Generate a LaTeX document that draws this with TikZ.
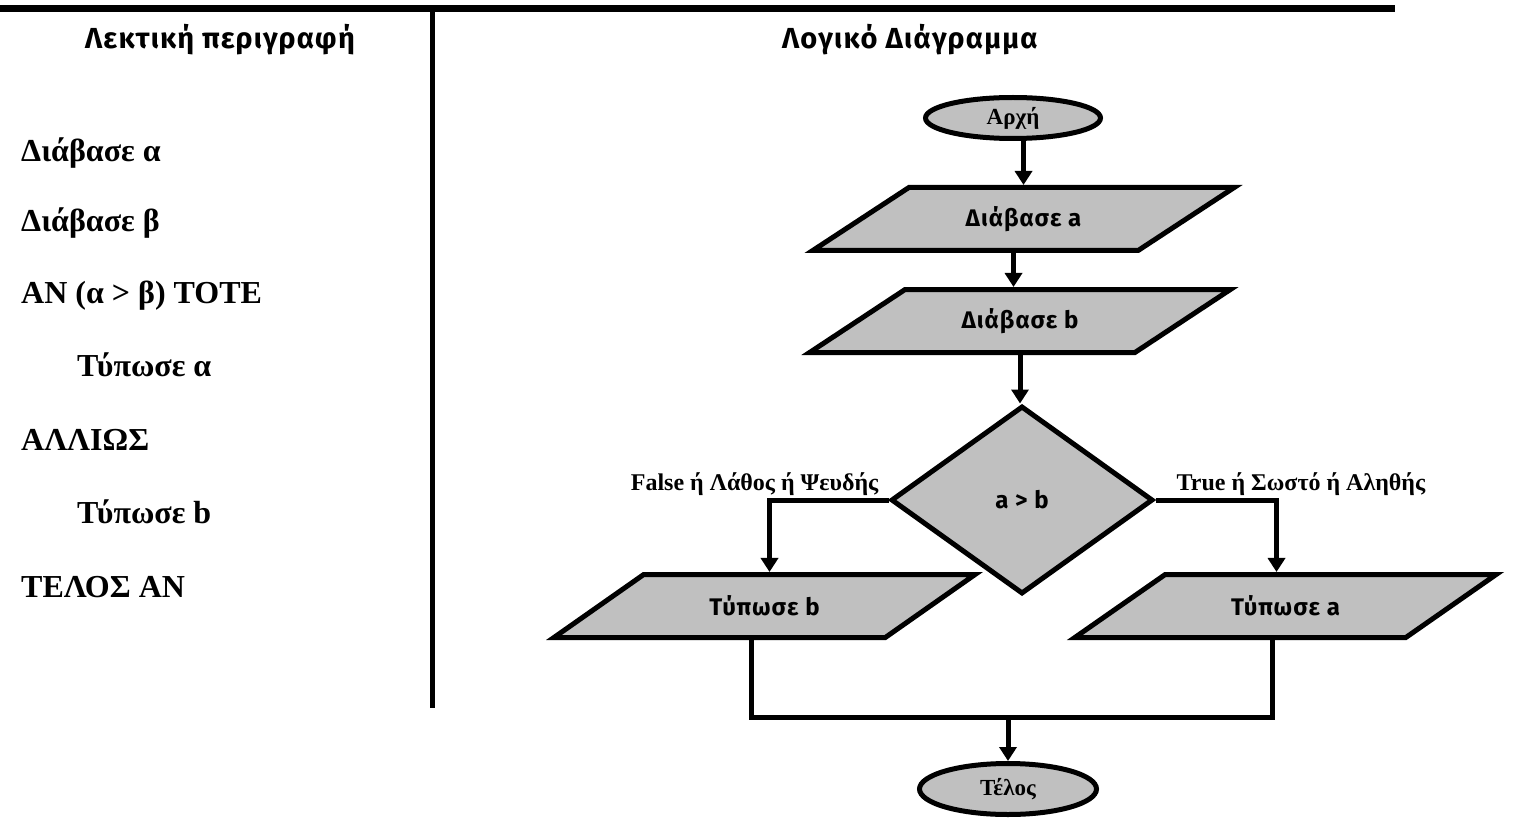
\documentclass[tikz,border=0pt]{standalone}
\usepackage{fontspec}
\setmainfont{Liberation Serif}
\newfontfamily\flowfont[LetterSpace=4]{Fira Sans}
\usetikzlibrary{shapes.geometric,arrows.meta,calc,positioning}
\definecolor{boxgray}{RGB}{192,192,192}
\tikzset{
    x=1pt,y=-1pt,
    terminal/.style ={ellipse, draw, fill=boxgray, line width=5pt, inner sep=0pt,
        font=\fontsize{23}{27}\selectfont\bfseries},
    io/.style = {trapezium, trapezium left angle=32, trapezium right angle=148,
        trapezium stretches=true, draw, fill=boxgray, line width=5pt,
        minimum width=422, minimum height=63, font=\flowfont\fontsize{24}{28}\selectfont\bfseries},
    decision/.style = {diamond, draw, fill=boxgray, line width=5pt, inner sep=0pt,
        minimum width=262, minimum height=188, font=\flowfont\fontsize{24}{28}\selectfont\bfseries},
    flow/.style = {line width=5pt, -{Triangle[length=14pt,width=17pt]}},
    link/.style = {line width=5pt},
    pseudo/.style = {anchor=base west, inner sep=0pt, font=\fontsize{32}{38}\selectfont\bfseries},
    branch/.style = {inner sep=0pt, font=\fontsize{24}{28}\selectfont\bfseries},
    heading/.style = {anchor=base, inner sep=0pt, font=\flowfont\fontsize{29}{34}\selectfont\bfseries}
}

\begin{document}
\begin{tikzpicture}
    \useasboundingbox (0,0) rectangle (1517,818);

    % frame of the table
    \draw[line width=7pt] (0,9) -- (1395,9);
    \draw[line width=5pt] (432,9) -- (432,708);

    \node[heading] (hleft) at (220,49) {Λεκτική περιγραφή};
    \node[heading] (hright) at (910,49) {Λογικό Διάγραμμα};

    % pseudocode
    \node[pseudo] (l1) at (21,162) {Διάβασε α};
    \node[pseudo] (l2) at (21,232) {Διάβασε β};
    \node[pseudo] (l3) at (21,303) {ΑΝ (α > β) ΤΟΤΕ};
    \node[pseudo] (l4) at (77,376) {Τύπωσε α};
    \node[pseudo] (l5) at (21,450) {ΑΛΛΙΩΣ};
    \node[pseudo] (l6) at (77,523) {Τύπωσε b};
    \node[pseudo] (l7) at (21,597) {ΤΕΛΟΣ ΑΝ};

    % flowchart
    \node[terminal, minimum width=175, minimum height=41] (start) at (1013,118) {Αρχή};
    \node[io] (readA) at (1023.5,219) {Διάβασε a};
    \node[io] (readB) at (1020,321) {Διάβασε b};
    \node[decision] (cmp) at (1022,500) {a > b};
    \node[io] (printB) at (764.5,606) {Τύπωσε b};
    \node[io] (printA) at (1285.5,606) {Τύπωσε a};
    \node[terminal, minimum width=177, minimum height=51] (stop) at (1008,789) {Τέλος};
    \coordinate (merge) at (1008,717);

    \node[branch, anchor=base east] (nolbl) at ($(cmp.west)+(-10,-10)$) {False ή Λάθος ή Ψευδής};
    \node[branch, anchor=base west] (yeslbl) at ($(cmp.east)+(21,-10)$) {True ή Σωστό ή Αληθής};

    \draw[flow] (start.south -| readA.north) -- (readA.north);
    \draw[flow] ([xshift=-10pt]readA.south) -- ([xshift=-10pt]readA.south |- readB.north);
    \draw[flow] (readB.south) -- (readB.south |- cmp.north);
    \draw[flow] (cmp.west) -| ([xshift=5pt]printB.north);
    \draw[flow] (cmp.east) -| ([xshift=-9pt]printA.north);
    \draw[link] ([xshift=-13pt]printB.south) |- (merge) -| ([xshift=-13pt]printA.south);
    \draw[flow] (merge) -- (stop.north);
\end{tikzpicture}
\end{document}
